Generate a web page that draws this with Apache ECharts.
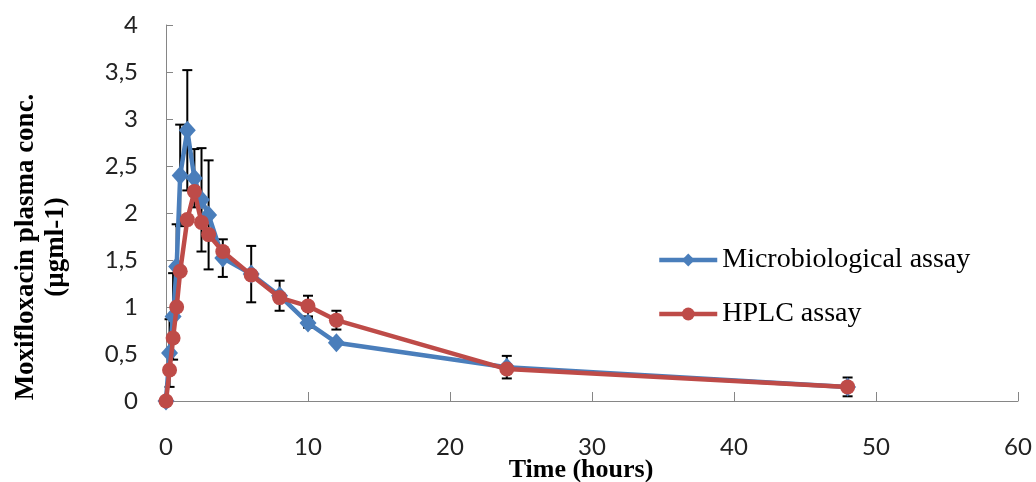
<!DOCTYPE html>
<html>
<head>
<meta charset="utf-8">
<script src="https://cdn.jsdelivr.net/npm/echarts@6/dist/echarts.min.js"></script>
<style>
  html, body { margin: 0; padding: 0; background: #fff; }
  #chart { width: 1036px; height: 482px; }
</style>
</head>
<body>
<div id="chart"></div>
<script>
// sampling times (hours)
var times = [0, 0.25, 0.5, 0.75, 1, 1.5, 2, 2.5, 3, 4, 6, 8, 10, 12, 24, 48];
// mean plasma concentrations
var microValues = [0, 0.51, 0.9, 1.43, 2.4, 2.88, 2.37, 2.14, 1.98, 1.52, 1.35, 1.12, 0.83, 0.62, 0.36, 0.15];
var hplcValues = [0, 0.33, 0.67, 1.0, 1.38, 1.93, 2.23, 1.9, 1.77, 1.59, 1.34, 1.1, 1.01, 0.86, 0.34, 0.15];
// standard deviations (null = no bar visible)
var microSd = [null, 0.36, 0.46, 0.45, 0.54, 0.64, 0.31, 0.55, 0.58, 0.2, 0.3, 0.16, 0.05, null, 0.12, 0.1];
var hplcSd = [null, null, null, null, null, null, null, null, null, null, null, null, 0.11, 0.1, null, null];
var yTicks = ["0", "0,5", "1", "1,5", "2", "2,5", "3", "3,5", "4"];

function pairs(vals) {
  return times.map(function (t, i) { return [t, vals[i]]; });
}
function bars(vals, sd) {
  var out = [];
  times.forEach(function (t, i) {
    if (sd[i] != null) out.push([t, vals[i] - sd[i], vals[i] + sd[i]]);
  });
  return out;
}

var chart = echarts.init(document.getElementById("chart"));

function errorSeries(data) {
  return {
    type: "custom",
    z: 1,
    silent: true,
    data: data,
    renderItem: function (params, api) {
      var x = api.value(0);
      var lo = api.coord([x, api.value(1)]);
      var hi = api.coord([x, api.value(2)]);
      var w = 5;
      var st = { stroke: "#000", lineWidth: 2 };
      return {
        type: "group",
        children: [
          { type: "line", shape: { x1: lo[0], y1: lo[1], x2: hi[0], y2: hi[1] }, style: st },
          { type: "line", shape: { x1: lo[0] - w, y1: lo[1], x2: lo[0] + w, y2: lo[1] }, style: st },
          { type: "line", shape: { x1: hi[0] - w, y1: hi[1], x2: hi[0] + w, y2: hi[1] }, style: st }
        ]
      };
    }
  };
}

chart.setOption({
  animation: false,
  grid: { left: 166, right: 18, top: 25, bottom: 81, containLabel: false, outerBoundsMode: "none" },
  legend: {
    orient: "vertical",
    left: 652,
    top: 241,
    itemWidth: 58,
    itemHeight: 16,
    itemGap: 26,
    data: ["Microbiological assay", "HPLC assay"],
    lineStyle: { width: 4.5 },
    textStyle: { fontFamily: "Liberation Serif", fontSize: 28, color: "#000" }
  },
  xAxis: {
    type: "value",
    min: 0,
    max: 60,
    interval: 10,
    name: "Time (hours)",
    nameLocation: "middle",
    nameGap: 56,
    nameMoveOverlap: false,
    nameTextStyle: { fontFamily: "Liberation Serif", fontWeight: "bold", fontSize: 26, color: "#000", padding: [0, 22, 0, 0] },
    splitLine: { show: false },
    axisLine: { lineStyle: { color: "#868686", width: 1 } },
    axisTick: { inside: true, length: 9, lineStyle: { color: "#868686" } },
    axisLabel: { margin: 34, fontFamily: "Lato", fontSize: 24, color: "#222" }
  },
  yAxis: {
    type: "value",
    min: 0,
    max: 4,
    interval: 0.5,
    name: "Moxifloxacin plasma conc.\n(µgml-1)",
    nameLocation: "middle",
    nameGap: 95,
    nameMoveOverlap: false,
    nameTextStyle: { fontFamily: "Liberation Serif", fontWeight: "bold", fontSize: 27, color: "#000", lineHeight: 30, padding: [0, 68, 0, 0] },
    splitLine: { show: false },
    axisLine: { show: true, lineStyle: { color: "#868686", width: 1 } },
    axisTick: { show: true, inside: true, length: 7, lineStyle: { color: "#868686" } },
    axisLabel: {
      margin: 28,
      fontFamily: "Lato",
      fontSize: 24,
      color: "#222",
      formatter: function (v) { return yTicks[Math.round(v * 2)]; }
    }
  },
  series: [
    errorSeries(bars(microValues, microSd)),
    errorSeries(bars(hplcValues, hplcSd)),
    {
      name: "Microbiological assay",
      type: "line",
      z: 3,
      data: pairs(microValues),
      symbol: "diamond",
      symbolSize: [17, 19],
      lineStyle: { color: "#4a7ebb", width: 4.5 },
      itemStyle: { color: "#4a7ebb" }
    },
    {
      name: "HPLC assay",
      type: "line",
      z: 4,
      data: pairs(hplcValues),
      symbol: "circle",
      symbolSize: 15,
      lineStyle: { color: "#be4b48", width: 4.5 },
      itemStyle: { color: "#be4b48" }
    }
  ]
});
</script>
</body>
</html>
